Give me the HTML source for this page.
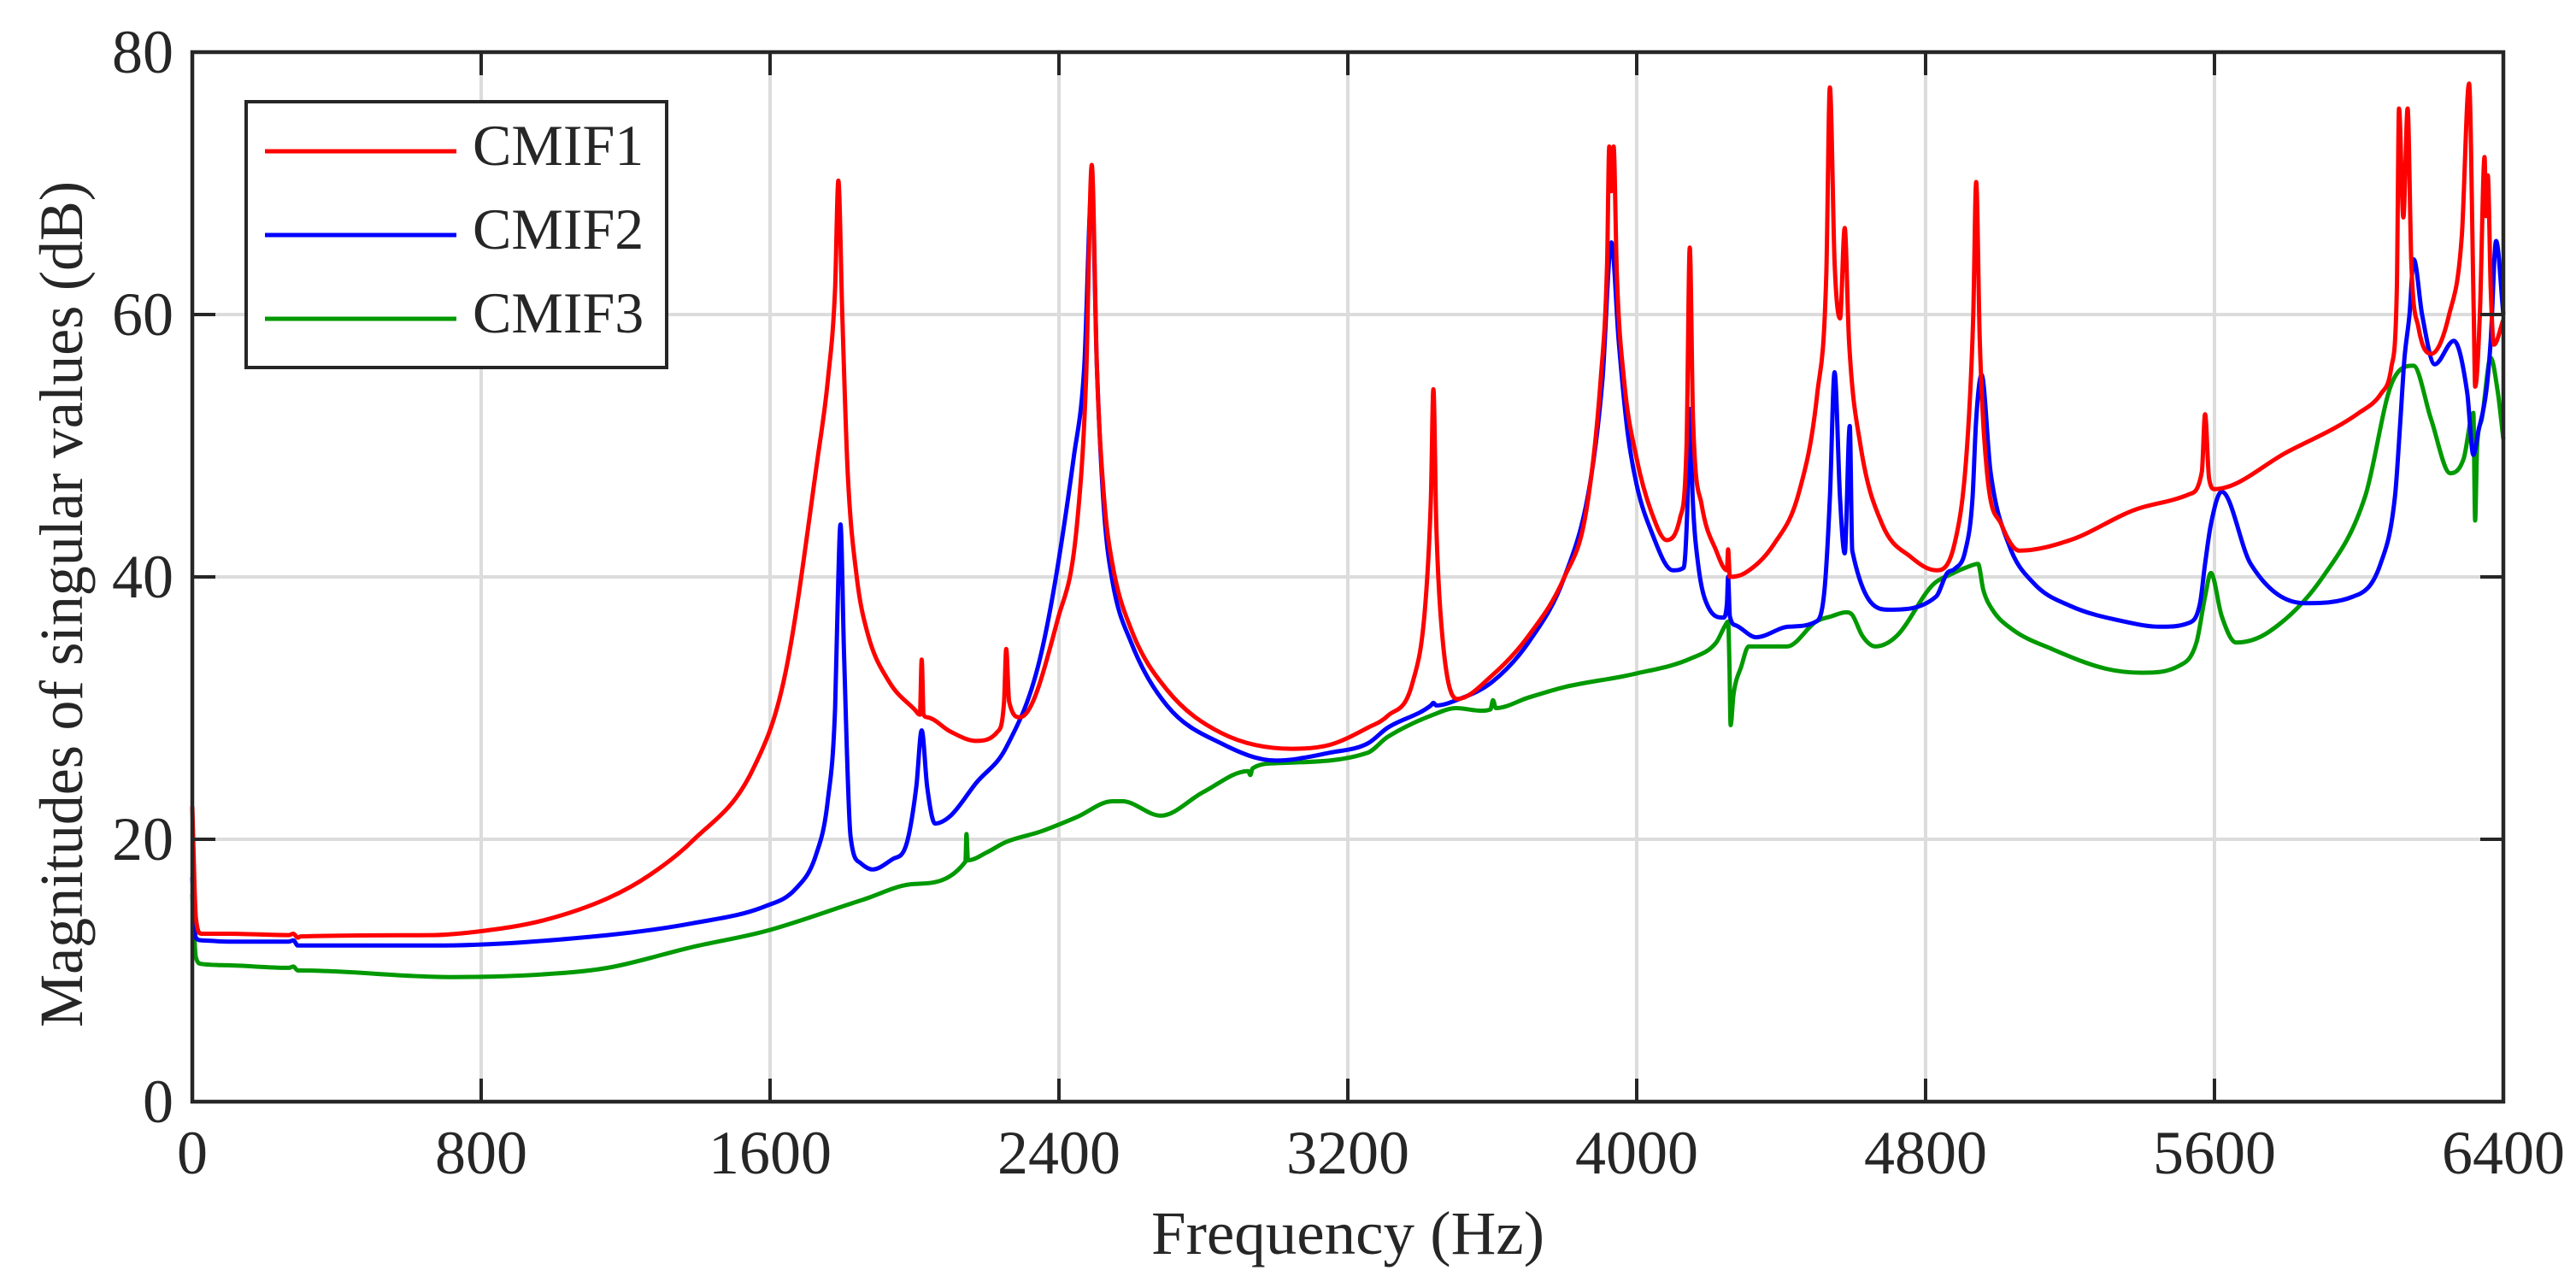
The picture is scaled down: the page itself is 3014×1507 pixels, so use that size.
<!DOCTYPE html>
<html><head><meta charset="utf-8"><style>
html,body{margin:0;padding:0;background:#fff;}
svg{display:block;}
text{font-family:"Liberation Serif",serif;fill:#262626;}
</style></head><body>
<svg id="chart" width="3014" height="1507" viewBox="0 0 3014 1507" xmlns="http://www.w3.org/2000/svg">
<rect width="3014" height="1507" fill="#fff"/>
<g id="grid"></g>
<g id="series"></g>
<g id="axes"></g>
<text x="1577" y="1467" font-size="72" text-anchor="middle" textLength="460" lengthAdjust="spacingAndGlyphs">Frequency (Hz)</text>
<text transform="translate(96,707) rotate(-90)" font-size="72" text-anchor="middle" textLength="990" lengthAdjust="spacingAndGlyphs">Magnitudes of singular values (dB)</text>
<g id="legend">
<rect x="288" y="119" width="492" height="311" fill="#fff" stroke="#262626" stroke-width="4"/>
<g><line x1="310" y1="177" x2="534" y2="177" stroke="#ff0000" stroke-width="5"/><text x="553" y="193" font-size="68">CMIF1</text></g>
<g><line x1="310" y1="275" x2="534" y2="275" stroke="#0000ff" stroke-width="5"/><text x="553" y="291" font-size="68">CMIF2</text></g>
<g><line x1="310" y1="373" x2="534" y2="373" stroke="#009900" stroke-width="5"/><text x="553" y="389" font-size="68">CMIF3</text></g>
</g>
</svg>
<script>
const xTicks = [0,800,1600,2400,3200,4000,4800,5600,6400];
const yTicks = [0,20,40,60,80];
const cmif1F = [0,10,25,100,267,280,292,300,667,800,969,1150,1268,1386,1552,1642,1733,1760,1780,1789,1800,1815,1840,1869,1930,2000,2015,2020,2025,2035,2100,2171,2230,2248,2254,2262,2292,2397,2450,2475,2491,2505,2525,2548,2600,2699,2850,3046,3150,3255,3310,3380,3415,3430,3437,3445,3460,3503,3600,3700,3800,3860,3900,3918,3924,3930,3936,3945,3965,4000,4040,4083,4120,4138,4147,4156,4180,4220,4250,4253,4258,4300,4380,4450,4500,4525,4535,4548,4563,4576,4588,4620,4680,4760,4829,4880,4915,4932,4940,4950,4970,5010,5060,5200,5400,5530,5565,5574,5585,5600,5800,6000,6062,6090,6105,6111,6123,6135,6145,6165,6200,6250,6285,6305,6318,6322,6335,6348,6352,6357,6365,6374,6400];
const cmif1V = [22.5,14,12.8,12.8,12.7,12.8,12.5,12.6,12.7,13.0,13.8,15.5,17.3,19.9,25.3,32.6,49.3,55,62,70.2,60,48,40,35.8,32,29.9,29.5,33.7,29.5,29.3,28.2,27.5,28.2,30.5,34.5,30.5,29.3,36.8,44,55,71.4,56,46,41,36,31.4,28.1,26.9,27.2,28.5,29.4,32,38,46,54.3,44,36,30.7,32.5,35.5,40,45,55,64,72.8,69.4,72.8,63,55,49,45,42.8,44.5,50,65.1,52,45.5,42,40.5,42.1,40,40.3,42.5,46.5,54,63,77.3,64,59.7,66.6,58,50,44,41.5,40.5,42.5,50,60,70.1,58,48,44,42,42.8,45.3,46.3,48,52.4,47.5,46.7,49.5,52.5,54,56,62,75.7,67.4,75.7,64,59,57,60,66,77.6,60,54.5,60,72,67.5,70.6,62,57.7,59.6];
const cmif2F = [0,10,25,100,267,280,292,300,667,1150,1386,1587,1670,1727,1760,1780,1789,1795,1805,1823,1850,1884,1940,1975,2005,2020,2035,2057,2100,2171,2254,2352,2442,2470,2491,2505,2525,2548,2600,2699,2850,3001,3150,3255,3310,3430,3437,3445,3500,3600,3700,3800,3870,3905,3930,3950,3975,4000,4040,4100,4130,4140,4147,4155,4170,4200,4240,4250,4253,4258,4275,4331,4420,4497,4520,4535,4548,4563,4576,4590,4597,4700,4829,4860,4880,4910,4930,4940,4955,4980,5030,5100,5200,5350,5450,5530,5560,5574,5590,5620,5700,5850,5984,6060,6100,6115,6126,6140,6152,6175,6210,6263,6300,6317,6330,6353,6365,6380,6400];
const cmif2V = [17.1,12.5,12.3,12.2,12.2,12.3,11.9,11.9,11.9,12.7,13.6,14.9,16.2,18.8,23,30,40,44,34,20.2,18.2,17.7,18.5,19.4,24,28.3,24,21.2,21.8,24.3,27,34.3,49.3,56,69.8,56,45,39.7,35,30.2,27.3,26,26.6,27.3,28.5,30.2,30.4,30.2,30.6,32,35,40,47,55,65.5,58,51,47,43.5,40.5,40.7,45,52.8,46,41,37.6,36.9,38,40,37,36.3,35.4,36.2,36.6,39,46,55.6,46,41.8,51.5,42,37.5,38.5,40.3,40.6,42,46,52,55.4,48,42.5,39.5,37.8,36.6,36.2,36.5,38,41,44,46.5,41,38,38.5,41,46.2,52,56.6,60,64.2,60,56.2,58,54,49.3,51,54.2,58,65.6,60,57.6,55.1];
const cmif3F = [0,10,25,100,267,280,292,300,714,969,1150,1386,1587,1858,2000,2141,2144,2148,2200,2254,2350,2450,2548,2576,2682,2800,2924,2930,2936,3001,3255,3310,3437,3500,3570,3595,3602,3610,3700,3800,3993,4151,4220,4245,4253,4257,4260,4268,4290,4310,4416,4497,4540,4580,4597,4625,4661,4720,4820,4870,4920,4945,4960,4985,5040,5150,5300,5400,5500,5550,5574,5590,5620,5660,5750,5900,6018,6090,6151,6200,6253,6290,6317,6322,6327,6340,6365,6385,6400];
const cmif3V = [15.8,11,10.5,10.4,10.2,10.3,10.0,10.0,9.5,9.7,10.2,11.8,13.0,15.4,16.6,18.3,20.4,18.4,19.0,19.8,20.6,21.7,22.9,22.9,21.8,23.6,25.2,24.9,25.4,25.8,26.6,27.8,29.5,30.0,29.8,29.9,30.6,30.0,30.8,31.6,32.6,33.8,35.0,36.3,36.6,33,28.7,31,33.2,34.7,34.7,36.6,37.0,37.3,37.1,35.5,34.7,35.5,39.4,40.2,40.8,41,39,37.5,36,34.5,33,32.7,33.2,35,38.5,40.3,37,35,35.8,40,46.2,54.7,56.1,52,47.9,49,52.5,44.3,49.8,52,56.7,54,50.5];

const PL=225, PR=2929, PT=61, PB=1289;
function xs(f){ return PL + (f/6400)*(PR-PL); }
function ys(v){ return PB - (v/80)*(PB-PT); }
const NS='http://www.w3.org/2000/svg';
const grid=document.getElementById('grid'), axes=document.getElementById('axes'), series=document.getElementById('series');
function mk(tag, attrs, parent){ const e=document.createElementNS(NS,tag); for(const k in attrs) e.setAttribute(k,attrs[k]); parent.appendChild(e); return e; }

xTicks.forEach(t=>{
  const x=xs(t);
  if(t>0 && t<6400){
    const g=mk('line',{x1:x,y1:PT,x2:x,y2:PB,stroke:'#dcdcdc','stroke-width':4},grid);
    
    
  }
  const tk=mk('line',{x1:x,y1:PB,x2:x,y2:PB-27,stroke:'#262626','stroke-width':4},axes);
  
  
  const tk2=mk('line',{x1:x,y1:PT,x2:x,y2:PT+27,stroke:'#262626','stroke-width':4},axes);
  
  
  const lb=mk('text',{x:x,y:1373,'font-size':72,'text-anchor':'middle'},axes);
  lb.textContent=t;
  
  
});
yTicks.forEach(t=>{
  const y=ys(t);
  if(t>0 && t<80){
    const g=mk('line',{x1:PL,y1:y,x2:PR,y2:y,stroke:'#dcdcdc','stroke-width':4},grid);
    
    
  }
  const tk=mk('line',{x1:PL,y1:y,x2:PL+27,y2:y,stroke:'#262626','stroke-width':4},axes);
  
  
  const tk2=mk('line',{x1:PR,y1:y,x2:PR-27,y2:y,stroke:'#262626','stroke-width':4},axes);
  
  
  const lb=mk('text',{x:203,y:y+24,'font-size':72,'text-anchor':'end'},axes);
  lb.textContent=t;
  
  
});
const frame=mk('rect',{x:PL,y:PT,width:PR-PL,height:PB-PT,fill:'none',stroke:'#262626','stroke-width':4.5},axes);



function monotonePath(px,py){
  const n=px.length; if(n<2) return '';
  const d=[],m=new Array(n);
  for(let i=0;i<n-1;i++){ const h=px[i+1]-px[i]; d.push(h===0?0:(py[i+1]-py[i])/h); }
  m[0]=d[0]; m[n-1]=d[n-2];
  for(let i=1;i<n-1;i++){ m[i]=(d[i-1]*d[i]<=0)?0:(d[i-1]+d[i])/2; }
  for(let i=0;i<n-1;i++){
    if(d[i]===0){ m[i]=0; m[i+1]=0; continue; }
    const a=m[i]/d[i], b=m[i+1]/d[i], s=a*a+b*b;
    if(s>9){ const t=3/Math.sqrt(s); m[i]=t*a*d[i]; m[i+1]=t*b*d[i]; }
  }
  let p='M'+px[0].toFixed(1)+','+py[0].toFixed(1);
  for(let i=0;i<n-1;i++){
    const h=(px[i+1]-px[i])/3;
    p+='C'+(px[i]+h).toFixed(1)+','+(py[i]+m[i]*h).toFixed(1)+' '+(px[i+1]-h).toFixed(1)+','+(py[i+1]-m[i+1]*h).toFixed(1)+' '+px[i+1].toFixed(1)+','+py[i+1].toFixed(1);
  }
  return p;
}
function drawSeries(F,V,color,name){
  const px=F.map(xs), py=V.map(ys);
  const p=mk('path',{d:monotonePath(px,py),fill:'none',stroke:color,'stroke-width':5,'stroke-linejoin':'round'},series);
  
  
}
drawSeries(cmif3F,cmif3V,'#009900','cmif3-line');
drawSeries(cmif2F,cmif2V,'#0000ff','cmif2-line');
drawSeries(cmif1F,cmif1V,'#ff0000','cmif1-line');
// keep legend on top of curves
document.getElementById('chart').appendChild(document.getElementById('legend'));
</script>
</body></html>
